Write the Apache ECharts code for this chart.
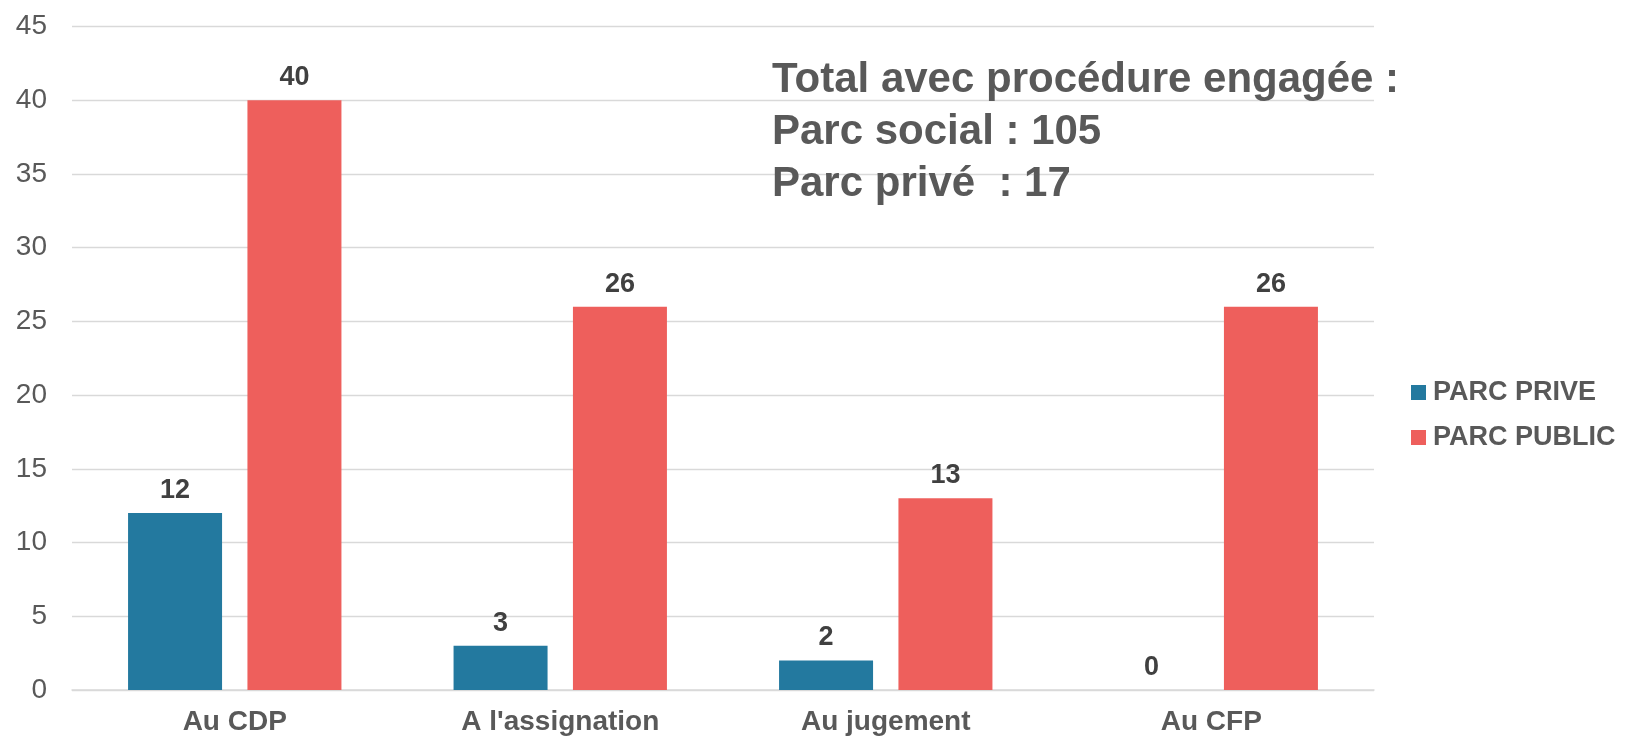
<!DOCTYPE html>
<html>
<head>
<meta charset="utf-8">
<script src="https://cdn.jsdelivr.net/npm/echarts@6/dist/echarts.min.js"></script>
<style>
html,body{margin:0;padding:0;background:#fff;}
#chart{width:1628px;height:739px;}
</style>
</head>
<body>
<div id="chart"></div>
<script>
const categories = ["Au CDP", "A l'assignation", "Au jugement", "Au CFP"];
const parcPrive = [12, 3, 2, 0];
const parcPublic = [40, 26, 13, 26];
const seriesNames = ["PARC PRIVE", "PARC PUBLIC"];
const yTicks = { min: 0, max: 45, interval: 5 };
const noteLines = ["Total avec procédure engagée :", "Parc social : 105", "Parc privé  : 17"];

const FONT = "'Liberation Sans', Arial, sans-serif";
const chart = echarts.init(document.getElementById('chart'), null, { renderer: 'canvas' });

const labelStyle = {
  show: true,
  position: 'top',
  distance: 9,
  color: '#404040',
  fontFamily: FONT,
  fontWeight: 'bold',
  fontSize: 27
};

chart.setOption({
  backgroundColor: '#ffffff',
  animation: false,
  title: {
    text: noteLines.join('\n'),
    left: 772,
    top: 54,
    padding: 0,
    textStyle: {
      color: '#595959',
      fontFamily: FONT,
      fontWeight: 'bold',
      fontSize: 42,
      lineHeight: 52
    }
  },
  legend: {
    orient: 'vertical',
    left: 1411,
    top: 379,
    padding: 0,
    itemWidth: 15,
    itemHeight: 15,
    itemGap: 18,
    icon: 'rect',
    data: seriesNames,
    textStyle: {
      color: '#595959',
      fontFamily: FONT,
      fontWeight: 'bold',
      fontSize: 27,
      padding: [0, 0, 0, 2]
    }
  },
  grid: {
    left: 72,
    right: 254,
    top: 26.5,
    bottom: 49,
    containLabel: false
  },
  xAxis: {
    type: 'category',
    data: categories,
    axisLine: { show: true, lineStyle: { color: '#d9d9d9', width: 1.5 } },
    axisTick: { show: false },
    axisLabel: {
      color: '#595959',
      fontFamily: FONT,
      fontWeight: 'bold',
      fontSize: 28,
      margin: 18
    }
  },
  yAxis: {
    type: 'value',
    min: yTicks.min,
    max: yTicks.max,
    interval: yTicks.interval,
    axisLine: { show: false },
    axisTick: { show: false },
    splitLine: { lineStyle: { color: '#d9d9d9', width: 1.3 } },
    axisLabel: {
      color: '#595959',
      fontFamily: FONT,
      fontSize: 28,
      margin: 25
    }
  },
  series: [
    {
      name: seriesNames[0],
      type: 'bar',
      data: parcPrive,
      barWidth: 94,
      barGap: '27%',
      itemStyle: { color: '#23799F' },
      label: labelStyle
    },
    {
      name: seriesNames[1],
      type: 'bar',
      data: parcPublic,
      barWidth: 94,
      barGap: '27%',
      itemStyle: { color: '#EE5F5C' },
      label: labelStyle
    }
  ]
});
</script>
</body>
</html>
